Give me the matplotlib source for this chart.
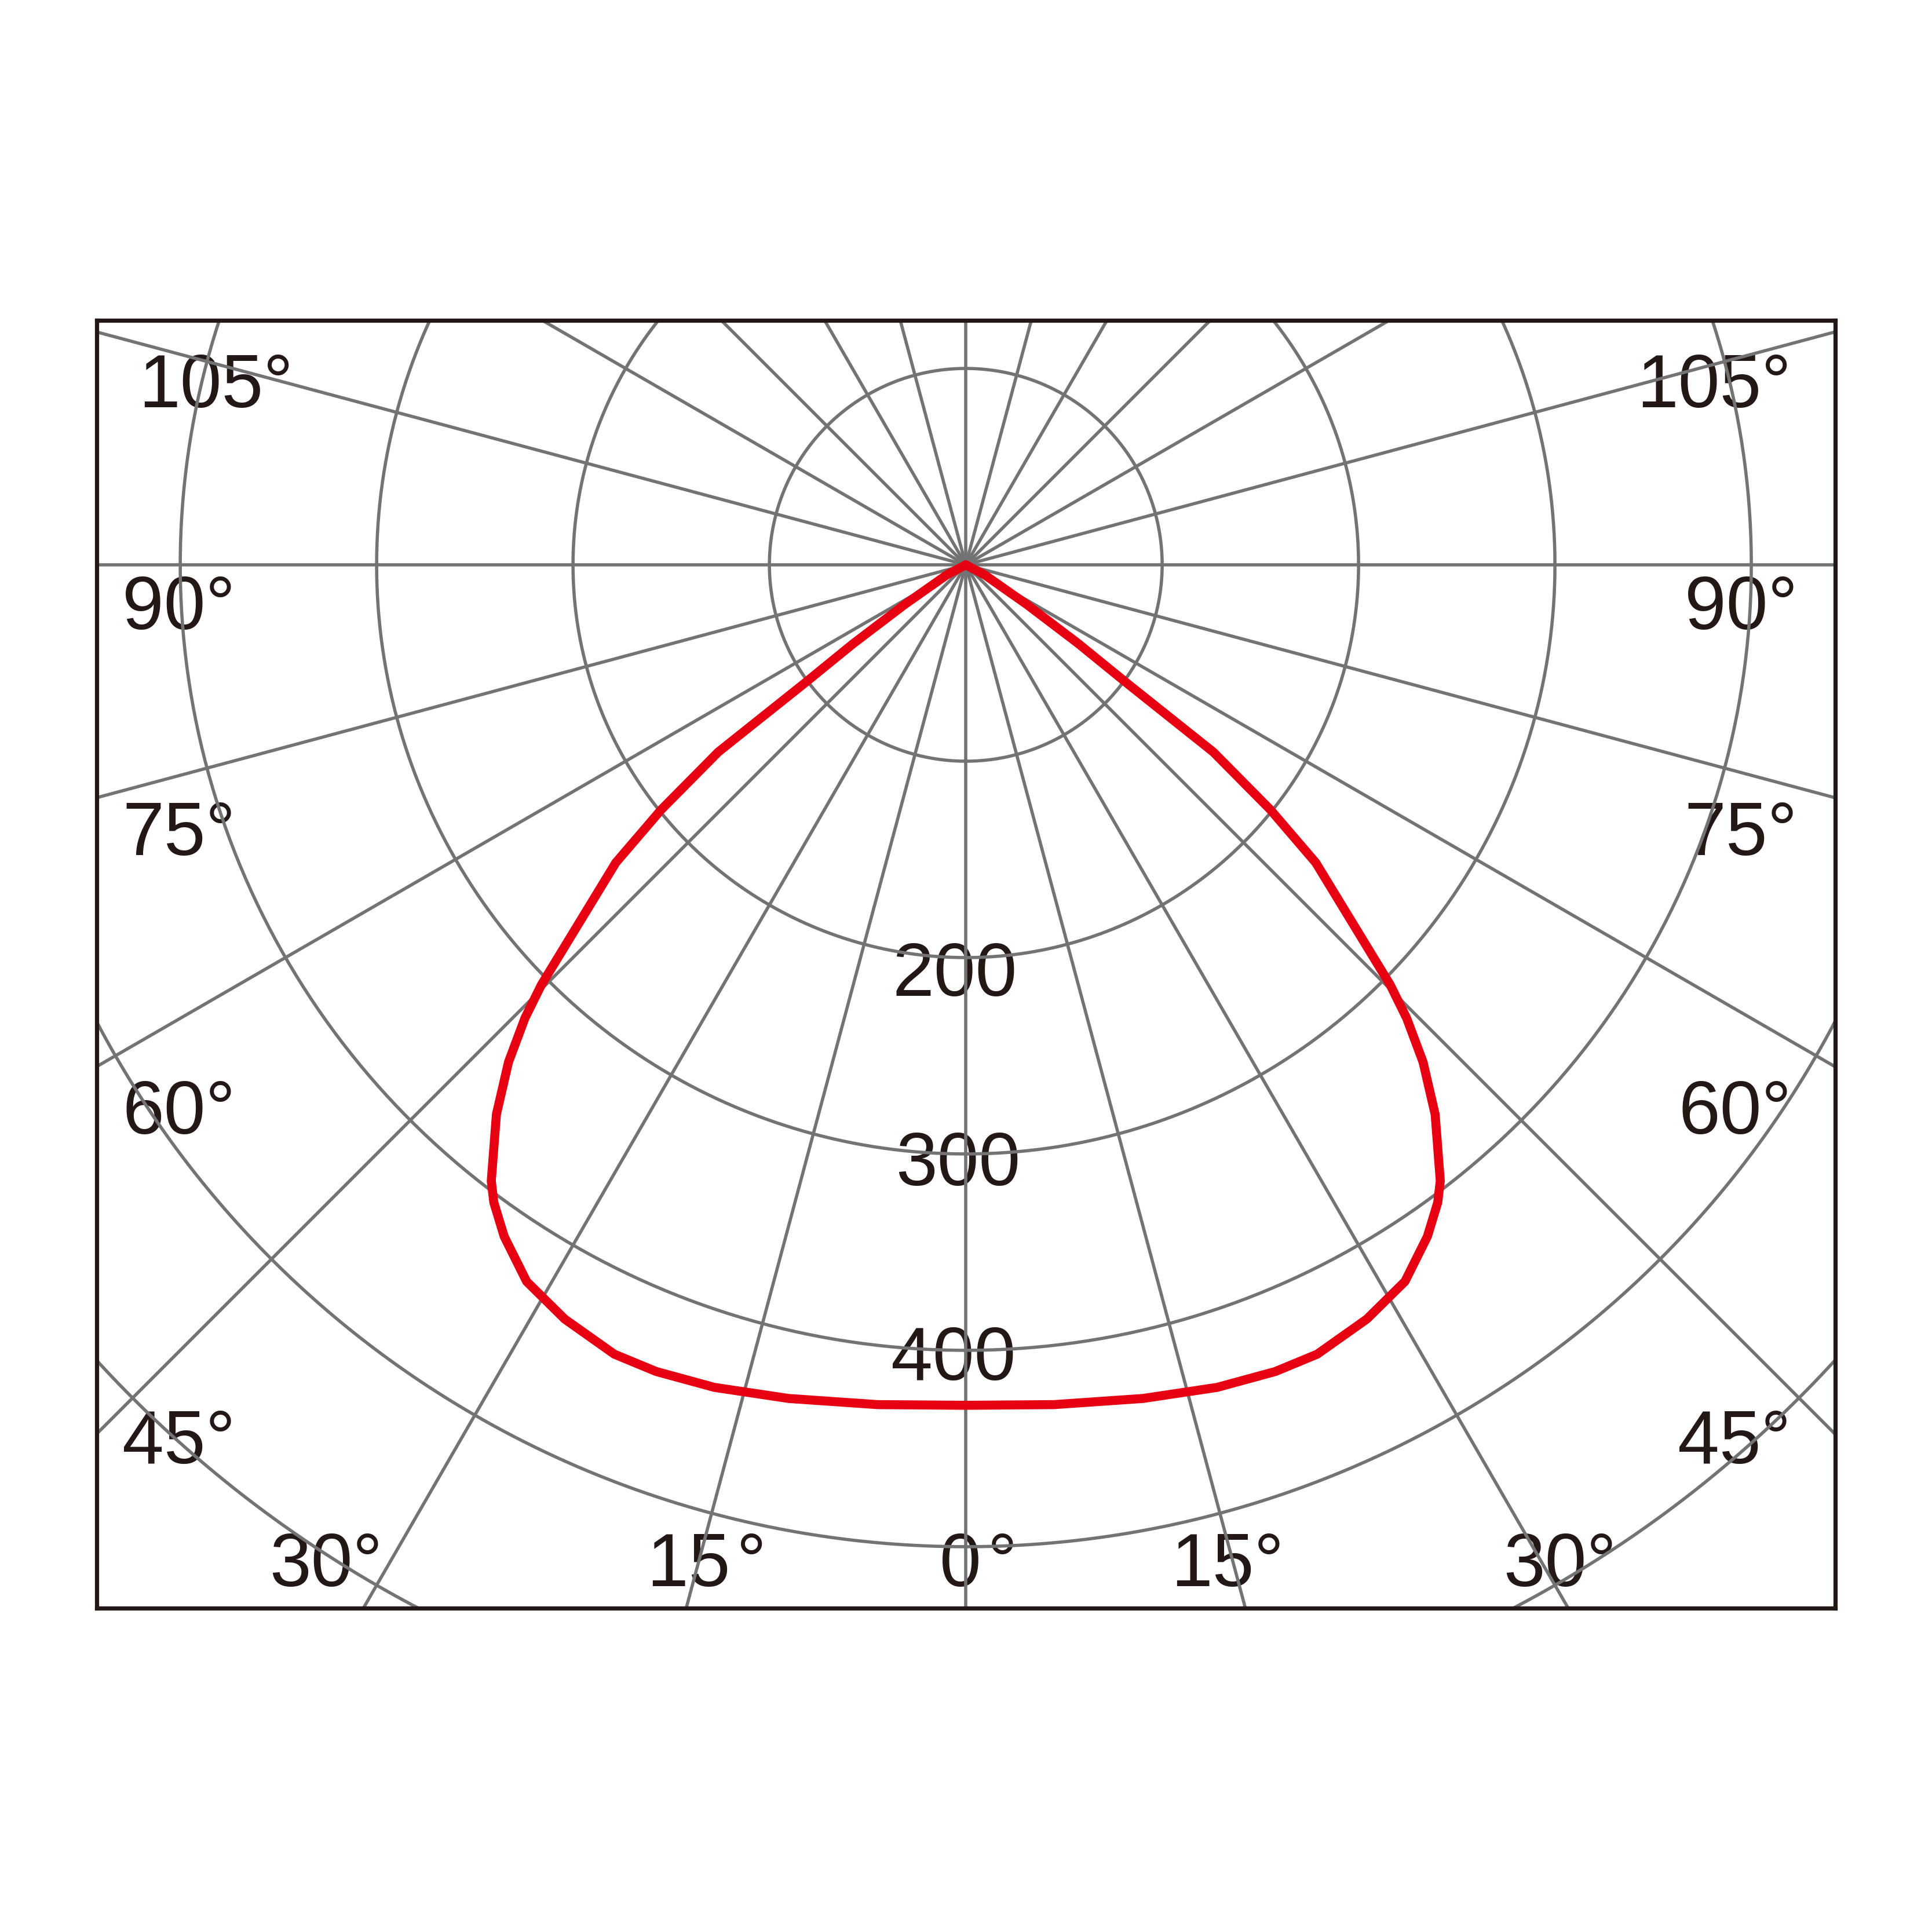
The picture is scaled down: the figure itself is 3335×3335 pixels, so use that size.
import matplotlib.pyplot as plt
import numpy as np

# luminous intensity (cd) vs. angle from nadir, negative angles = left half
angles = [-90, -62, -57, -55, -53.7, -52.9, -51.2, -49.6, -45.3, -44.2, -42.6,
          -40.5, -37.6, -36.5, -34.5, -31.5, -28, -24, -21, -17, -12, -6,
          0, 6, 12, 17, 21, 24, 28, 31.5, 34.5, 36.5, 37.6, 40.5, 42.6,
          44.2, 45.3, 49.6, 51.2, 52.9, 53.7, 55, 57, 62, 90]
candela = [0, 11, 37, 70, 102, 158, 199, 234, 304, 322, 344,
           368, 396, 404, 415, 428, 435, 440, 440, 438, 434, 430,
           428, 430, 434, 438, 440, 440, 435, 428, 415, 404, 396, 368, 344,
           322, 304, 234, 199, 158, 102, 70, 37, 11, 0]

rings = [100, 200, 300, 400, 500, 600]
spoke_step = 15
ring_labels = ['200', '300', '400']
side_labels = ['105°', '90°', '75°', '60°', '45°']
bottom_labels = ['30°', '15\u200a°', '0\u200a°', '15°', '30°']

# label placement (data units, baseline)
ring_label_pos = [(-5.6, -219.5), (-3.8, -315.9), (-6.2, -415.0)]
side_y = [80.2, -32.7, -147.8, -289.7, -457.5]
left_x = [-381.9, -400.6, -400.6, -400.6, -400.6]
right_x = [381.1, 394.7, 394.7, 391.7, 391.2]
bottom_x = [-325.7, -132.0, 6.5, 133.3, 302.4]
bottom_y = -520.1

grid_col = '#737373'
text_col = '#231815'
red = '#e60012'

fig = plt.figure(figsize=(3335 / 200, 3335 / 200), dpi=200)
ax = fig.add_axes([0.04999, 0.16762, 0.8999, 0.66647])
ax.set_xlim(-442.6, 442.7)
ax.set_ylim(-531.3, 124.4)
ax.set_xticks([])
ax.set_yticks([])
for s in ax.spines.values():
    s.set_color(text_col)
    s.set_linewidth(2.6)
    s.set_zorder(10)

# rings
t = np.radians(np.linspace(0, 360, 721))
for r in rings:
    ax.plot(r * np.sin(t), -r * np.cos(t), color=grid_col, lw=2.0, zorder=2)

# spokes
for a in range(0, 360, spoke_step):
    th = np.radians(a)
    ax.plot([0, 1000 * np.sin(th)], [0, -1000 * np.cos(th)], color=grid_col,
            lw=2.0, zorder=2)

# intensity curve
th = np.radians(angles)
cd = np.array(candela)
ax.plot(cd * np.sin(th), -cd * np.cos(th), color=red, lw=5.6,
        solid_joinstyle='round', solid_capstyle='round', zorder=5)

fnt = dict(family=['Liberation Sans', 'DejaVu Sans'], fontsize=46.5,
           color=text_col, ha='center', va='baseline', zorder=1)
for lab, (x, y) in zip(ring_labels, ring_label_pos):
    ax.text(x, y, lab, **fnt)
for lab, y, xl, xr in zip(side_labels, side_y, left_x, right_x):
    ax.text(xl, y, lab, **fnt)
    ax.text(xr, y, lab, **fnt)
for lab, x in zip(bottom_labels, bottom_x):
    ax.text(x, bottom_y, lab, **fnt)

fig.savefig('out.png', dpi=200, facecolor='white')
